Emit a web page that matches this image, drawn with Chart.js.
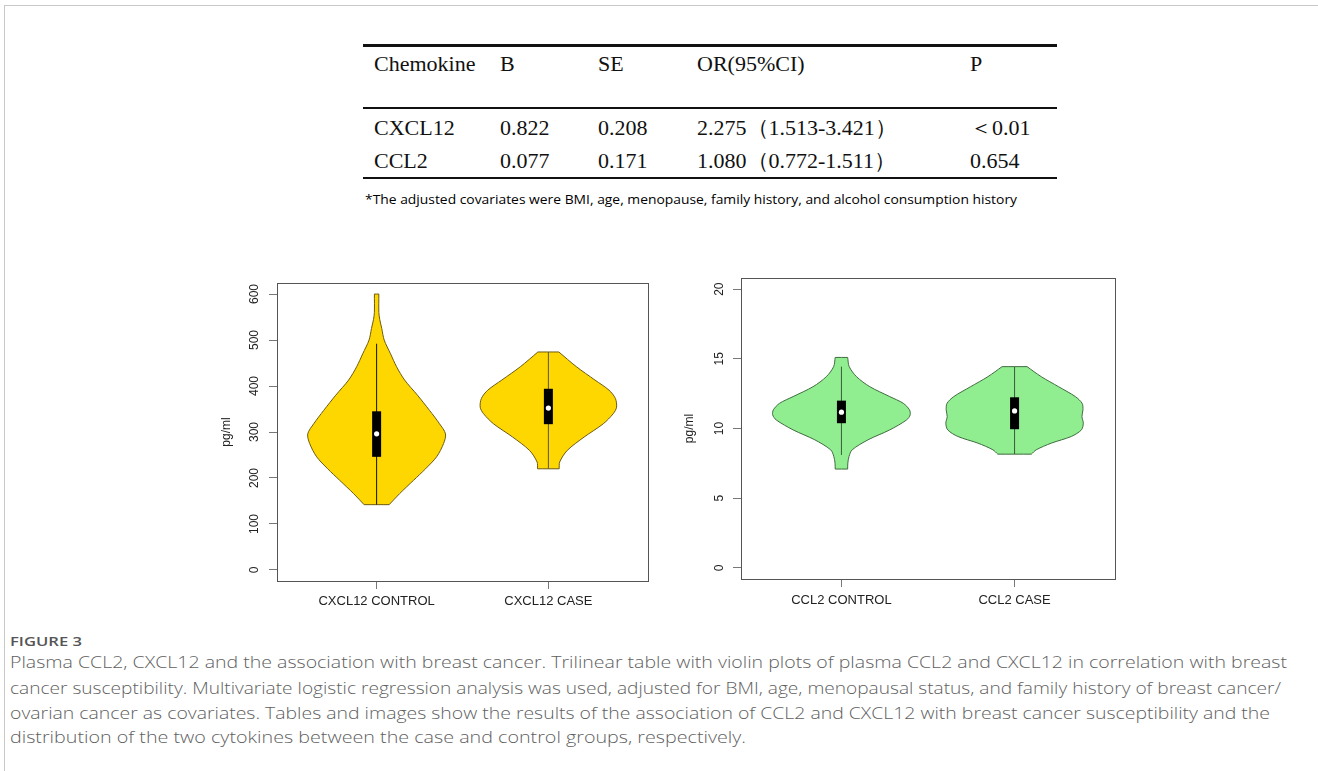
<!DOCTYPE html>
<html><head><meta charset="utf-8">
<script src="https://cdn.jsdelivr.net/npm/chart.js@4.4.0/dist/chart.umd.min.js"></script>
<style>
html,body{margin:0;padding:0;background:#fff;width:1318px;height:771px;overflow:hidden}
body{position:relative}
.frame{position:absolute;left:4px;top:5px;width:1400px;height:900px;border-left:1px solid #c8c8c8;border-top:1px solid #c8c8c8}
.t{position:absolute;white-space:nowrap;font-family:"Liberation Serif","Times New Roman",serif;font-size:22px;color:#111;line-height:22px;height:22px}
.rule{position:absolute;left:363px;width:694px;background:#111}
.fn{position:absolute;white-space:nowrap;font-family:"Open Sans","Noto Sans",sans-serif;font-size:13px;color:#000;line-height:16px;transform-origin:left center;font-weight:500}
.cap{position:absolute;left:10px;white-space:nowrap;font-family:"Open Sans","Noto Sans",sans-serif;font-size:17px;color:#5f5f5f;line-height:20px;transform-origin:left center;font-weight:300}
.fig{position:absolute;left:10px;white-space:nowrap;font-family:"Open Sans","Noto Sans",sans-serif;font-size:13px;color:#555;line-height:16px;transform-origin:left center;font-weight:600}
canvas{position:absolute}
</style></head>
<body>
<div class="frame"></div>

<div class="rule" style="top:44px;height:3px"></div>
<div class="rule" style="top:107px;height:2px"></div>
<div class="rule" style="top:177px;height:2px"></div>
<div id="table"></div>
<div class="fn" id="fn" style="left:365px;top:191px">*The adjusted covariates were BMI, age, menopause, family history, and alcohol consumption history</div>

<canvas id="c1" width="460" height="350" style="left:200px;top:270px"></canvas>
<canvas id="c2" width="470" height="355" style="left:660px;top:265px"></canvas>

<div class="fig" id="fig" style="top:633px">FIGURE 3</div>
<div class="cap" id="cap1" style="top:652px">Plasma CCL2, CXCL12 and the association with breast cancer. Trilinear table with violin plots of plasma CCL2 and CXCL12 in correlation with breast</div>
<div class="cap" id="cap2" style="top:678px">cancer susceptibility. Multivariate logistic regression analysis was used, adjusted for BMI, age, menopausal status, and family history of breast cancer/</div>
<div class="cap" id="cap3" style="top:703px">ovarian cancer as covariates. Tables and images show the results of the association of CCL2 and CXCL12 with breast cancer susceptibility and the</div>
<div class="cap" id="cap4" style="top:727px">distribution of the two cytokines between the case and control groups, respectively.</div>

<script>
// ---------- table data ----------
const tableHeader = ["Chemokine", "B", "SE", "OR(95%CI)", "P"];
const tableRow1 = ["CXCL12", "0.822", "0.208", "2.275（1.513-3.421）", "＜0.01"];
const tableRow2 = ["CCL2", "0.077", "0.171", "1.080（0.772-1.511）", "0.654"];

// ---------- violin data: CXCL12 ----------
const cxclCategories = ["CXCL12 CONTROL", "CXCL12 CASE"];
const cxclTicks = [0, 100, 200, 300, 400, 500, 600];
const cxclControlLevels = [142, 166, 195, 220, 246, 275, 296, 318, 347, 380, 413, 442, 470, 500, 525, 545, 560, 600];
const cxclControlDensity = [0.073, 0.134, 0.215, 0.285, 0.349, 0.390, 0.401, 0.366, 0.308, 0.238, 0.163, 0.116, 0.081, 0.044, 0.030, 0.018, 0.013, 0.013];
const cxclCaseLevels = [220, 235, 260, 289, 318, 340, 354, 373, 391, 413, 442, 474];
const cxclCaseDensity = [0.063, 0.066, 0.110, 0.208, 0.320, 0.378, 0.397, 0.390, 0.353, 0.271, 0.163, 0.061];
const cxclMin = [142, 220];
const cxclQ1 = [246, 317];
const cxclMedian = [296, 352];
const cxclQ3 = [345, 394];
const cxclMax = [492, 474];

// ---------- violin data: CCL2 ----------
const cclCategories = ["CCL2 CONTROL", "CCL2 CASE"];
const cclTicks = [0, 5, 10, 15, 20];
const cclControlLevels = [7.09, 7.52, 8.0, 8.47, 9.19, 9.90, 10.62, 10.98, 11.34, 11.81, 12.29, 13.0, 13.72, 14.44, 15.1];
const cclControlDensity = [0.036, 0.037, 0.044, 0.062, 0.154, 0.279, 0.377, 0.397, 0.393, 0.357, 0.279, 0.164, 0.087, 0.045, 0.036];
const cclCaseLevels = [8.16, 8.47, 8.95, 9.43, 9.90, 10.38, 10.86, 11.34, 11.81, 12.29, 13.0, 13.72, 14.44];
const cclCaseDensity = [0.097, 0.125, 0.212, 0.328, 0.386, 0.397, 0.389, 0.395, 0.390, 0.351, 0.254, 0.154, 0.072];
const cclMin = [8.1, 8.16];
const cclQ1 = [10.38, 9.95];
const cclMedian = [11.17, 11.26];
const cclQ3 = [12.0, 12.24];
const cclMax = [14.44, 14.44];

// ---------- table rendering ----------
const colX = [374, 500, 598, 697, 970];
const rowY = [53, 117, 150];
const tbl = document.getElementById('table');
[tableHeader, tableRow1, tableRow2].forEach((row, r) => {
  row.forEach((txt, c) => {
    const d = document.createElement('div');
    d.className = 't';
    d.textContent = txt;
    d.style.left = colX[c] + 'px';
    d.style.top = rowY[r] + 'px';
    tbl.appendChild(d);
  });
});

// ---------- violin helpers ----------
// closed outline; end points are repeated so the flat ends get sharp corners
function violinOutline(pos, levels, dens) {
  const n = levels.length;
  const pts = [];
  pts.push({x: pos + dens[0], y: levels[0]});
  for (let i = 0; i < n; i++) pts.push({x: pos + dens[i], y: levels[i]});
  pts.push({x: pos + dens[n - 1], y: levels[n - 1]});
  pts.push({x: pos - dens[n - 1], y: levels[n - 1]});
  for (let i = n - 1; i >= 0; i--) pts.push({x: pos - dens[i], y: levels[i]});
  pts.push({x: pos - dens[0], y: levels[0]});
  pts.push({x: pos + dens[0], y: levels[0]});
  pts.push({x: pos + dens[0], y: levels[0]});
  return pts;
}

const framePlugin = {
  id: 'frame',
  afterDraw(chart, args, opts) {
    const {ctx, chartArea: a, scales} = chart;
    ctx.save();
    ctx.strokeStyle = '#555';
    ctx.lineWidth = 1;
    ctx.strokeRect(Math.round(a.left) + 0.5, Math.round(a.top) + 0.5, Math.round(a.right - a.left), Math.round(a.bottom - a.top));
    ctx.fillStyle = '#222';
    ctx.font = '13px "Liberation Sans", Arial, sans-serif';
    ctx.textAlign = 'center';
    ctx.textBaseline = 'middle';
    opts.categories.forEach((lab, i) => {
      ctx.fillText(lab, scales.x.getPixelForValue(i + 1), a.bottom + opts.xLabOff);
    });
    ctx.font = '12px "Liberation Sans", Arial, sans-serif';
    opts.ticks.forEach(v => {
      ctx.save();
      ctx.translate(a.left - opts.yLabOff, scales.y.getPixelForValue(v));
      ctx.rotate(-Math.PI / 2);
      ctx.fillText(String(v), 0, 0);
      ctx.restore();
    });
    ctx.save();
    ctx.translate(a.left - opts.titleOff, (a.top + a.bottom) / 2);
    ctx.rotate(-Math.PI / 2);
    ctx.fillText('pg/ml', 0, 0);
    ctx.restore();
    ctx.restore();
  }
};

function makeViolinChart(id, cfg) {
  const datasets = [];
  const pos = [1, 2];
  datasets.push({
    label: 'median', order: 0, showLine: false,
    data: pos.map((p, i) => ({x: p, y: cfg.median[i]})),
    pointRadius: 2.6, pointBackgroundColor: '#fff', pointBorderWidth: 0, pointBorderColor: '#fff'
  });
  pos.forEach((p, i) => datasets.push({
    label: 'box' + i, order: 1, showLine: true,
    data: [{x: p, y: cfg.q1[i]}, {x: p, y: cfg.q3[i]}],
    borderColor: '#000', borderWidth: 9, borderCapStyle: 'butt', pointRadius: 0
  }));
  pos.forEach((p, i) => datasets.push({
    label: 'wh' + i, order: 2, showLine: true,
    data: [{x: p, y: cfg.min[i]}, {x: p, y: cfg.max[i]}],
    borderColor: cfg.whisker[i], borderWidth: 1, pointRadius: 0
  }));
  cfg.violins.forEach((v, i) => datasets.push({
    label: 'violin' + i, order: 3, showLine: true,
    data: violinOutline(pos[i], v.levels, v.dens),
    borderColor: cfg.outline, borderWidth: 1, backgroundColor: cfg.fill,
    fill: 'shape', tension: 0.3, pointRadius: 0
  }));

  const gridOpts = {display: true, drawOnChartArea: false, drawTicks: true, tickLength: 8, color: '#777', lineWidth: 1};
  return new Chart(document.getElementById(id), {
    type: 'scatter',
    data: {datasets},
    options: {
      responsive: false, animation: false, events: [],
      layout: {padding: {top: cfg.padTop, right: cfg.padRight, left: 0, bottom: 0}},
      plugins: {
        legend: {display: false}, tooltip: {enabled: false},
        frame: {categories: cfg.categories, ticks: cfg.ticks, xLabOff: cfg.xLabOff, yLabOff: cfg.yLabOff, titleOff: cfg.titleOff}
      },
      scales: {
        x: {
          type: 'linear', min: 0.42, max: 2.58,
          afterBuildTicks: s => { s.ticks = [{value: 1}, {value: 2}]; },
          afterFit: s => { s.height = cfg.xAxisH; },
          ticks: {display: false},
          grid: gridOpts,
          border: {display: true, color: '#555'}
        },
        y: {
          type: 'linear', min: cfg.yMin, max: cfg.yMax,
          afterBuildTicks: s => { s.ticks = cfg.ticks.map(v => ({value: v})); },
          afterFit: s => { s.width = cfg.yAxisW; },
          ticks: {display: false},
          grid: gridOpts,
          border: {display: true, color: '#555'}
        }
      }
    },
    plugins: [framePlugin]
  });
}

makeViolinChart('c1', {
  categories: cxclCategories, ticks: cxclTicks, yMin: -24, yMax: 624,
  violins: [{levels: cxclControlLevels, dens: cxclControlDensity}, {levels: cxclCaseLevels, dens: cxclCaseDensity}],
  min: cxclMin, q1: cxclQ1, median: cxclMedian, q3: cxclQ3, max: cxclMax,
  fill: '#FFD700', outline: '#6b5a10', whisker: ['#111', '#555'],
  padTop: 13, padRight: 12, xAxisH: 39, yAxisW: 77,
  xLabOff: 20, yLabOff: 22, titleOff: 50
});

makeViolinChart('c2', {
  categories: cclCategories, ticks: cclTicks, yMin: -0.8, yMax: 20.8,
  violins: [{levels: cclControlLevels, dens: cclControlDensity}, {levels: cclCaseLevels, dens: cclCaseDensity}],
  min: cclMin, q1: cclQ1, median: cclMedian, q3: cclQ3, max: cclMax,
  fill: '#90EE90', outline: '#3f6b3f', whisker: ['#3a5a3a', '#3a5a3a'],
  padTop: 13, padRight: 15, xAxisH: 41, yAxisW: 81,
  xLabOff: 21, yLabOff: 21, titleOff: 51
});

const fits = [['fn', 652], ['fig', 72], ['cap1', 1277], ['cap2', 1271], ['cap3', 1260], ['cap4', 736]];
function fitAll() {
  fits.forEach(([id, w]) => {
    const el = document.getElementById(id);
    el.style.transform = 'none';
    const cur = el.getBoundingClientRect().width;
    if (cur > 0) el.style.transform = 'scaleX(' + (w / cur).toFixed(4) + ')';
  });
}
fitAll();
if (document.fonts && document.fonts.ready) document.fonts.ready.then(fitAll);
</script>
</body></html>
